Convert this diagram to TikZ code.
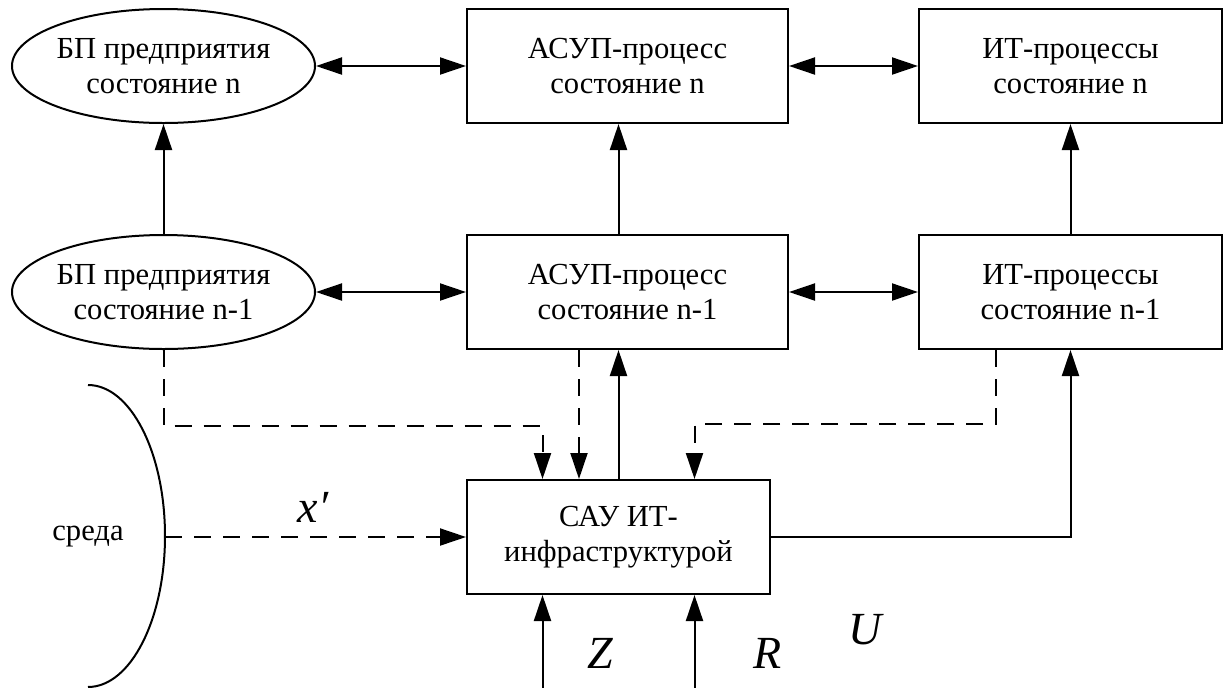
\documentclass[tikz,border=0pt]{standalone}
\usepackage{fontspec}
\setmainfont{Liberation Serif}
\usetikzlibrary{arrows.meta,shapes.geometric}
\begin{document}
\begin{tikzpicture}[x=0.5pt,y=-0.5pt,line width=1pt,
  >={Triangle[length=13pt,width=8.5pt]},
  txt/.style={font=\fontsize{15.3}{17.3}\selectfont},
  box/.style={draw,rectangle,align=center,inner sep=0pt,txt,minimum height=57pt},
  ell/.style={draw,ellipse,align=center,inner sep=0pt,txt,minimum width=151.5pt,minimum height=57pt},
  dsh/.style={dash pattern=on 8.5pt off 6pt},
  lbl/.style={font=\fontsize{23}{27}\selectfont\itshape}]
\useasboundingbox (0,0) rectangle (1223,687);
% nodes
\node[ell] (e1) at (163.5,66) {БП предприятия\\состояние n};
\node[ell] (e2) at (163.5,292) {БП предприятия\\состояние n-1};
\node[box,minimum width=160.5pt] (a1) at (627.5,66) {АСУП-процесс\\состояние n};
\node[box,minimum width=160.5pt] (a2) at (627.5,292) {АСУП-процесс\\состояние n-1};
\node[box,minimum width=151.5pt] (i1) at (1070.5,66) {ИТ-процессы\\состояние n};
\node[box,minimum width=151.5pt] (i2) at (1070.5,292) {ИТ-процессы\\состояние n-1};
\node[box,minimum width=151.5pt] (sau) at (618.5,537) {САУ ИТ-\\инфраструктурой};
\node[txt] (env) at (88,537) {среда};
\draw (88,385) arc[start angle=90,end angle=-90,x radius=38.5pt,y radius=75.5pt];
\coordinate (envr) at (165,537);
% helper coordinates
\coordinate (q1) at ([xshift=-38pt]sau.north);
\coordinate (q2) at ([xshift=-19.75pt]sau.north);
\coordinate (q3) at ([xshift=38pt]sau.north);
\coordinate (z1) at ([xshift=-38pt]sau.south);
\coordinate (r1) at ([xshift=38pt]sau.south);
\coordinate (h1) at (0,426);
\coordinate (h2) at (0,424);
\coordinate (bot) at (0,690);
\coordinate (i2d) at ([xshift=-37.25pt]i2.south);
% horizontal connectors
\draw[<->] (e1) -- (a1);
\draw[<->] (a1) -- (i1);
\draw[<->] (e2) -- (a2);
\draw[<->] (a2) -- (i2);
% vertical connectors
\draw[->] (e2) -- (e1);
\draw[->] (sau.north |- a2.north) -- (sau.north |- a1.south);
\draw[->] (i2) -- (i1);
\draw[->] (sau.north) -- (sau.north |- a2.south);
\draw[->] (sau.east) -| (i2.south);
% dashed connectors
\draw[dsh,->] (e2.south) -- (e2.south |- h1) -| (q1);
\draw[dsh,->] (a2.south -| q2) -- (q2);
\draw[dsh,->] (i2d) -- (i2d |- h2) -| (q3);
\draw[dsh,->] (envr) -- (sau.west);
% inputs
\draw[->] (z1 |- bot) -- (z1);
\draw[->] (r1 |- bot) -- (r1);
% labels
\node[lbl] (lx) at (313,507) {x′};
\node[lbl] (lz) at (600,653) {Z};
\node[lbl] (lr) at (768,653) {R};
\node[lbl] (lu) at (865,630) {U};
\end{tikzpicture}
\end{document}
